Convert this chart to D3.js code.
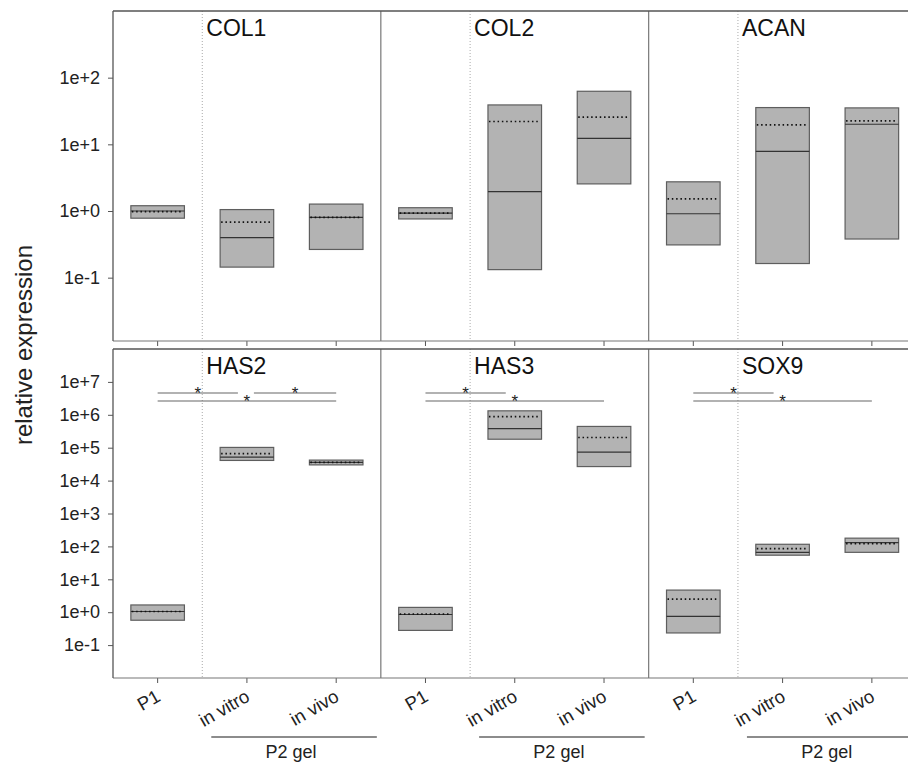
<!DOCTYPE html>
<html>
<head>
<meta charset="utf-8">
<script src="https://cdn.jsdelivr.net/npm/d3@7"></script>
<style>
  body { margin: 0; background: #fff; }
  text { font-family: "Liberation Sans", Arial, sans-serif; }
</style>
</head>
<body>
<script>
var width = 908;
var height = 766;

// genes, in panel order (top row then bottom row)
var genes = ["COL1", "COL2", "ACAN", "HAS2", "HAS3", "SOX9"];
var groups = ["P1", "in vitro", "in vivo"];

// box bottom / top, median (solid) and mean (dotted), per gene, per group
var boxLow = [
  [0.78, 0.144, 0.265],
  [0.76, 0.132, 2.55],
  [0.31, 0.163, 0.38],
  [0.57, 4.1e4, 3.0e4],
  [0.28, 1.81e5, 2.67e4],
  [0.234, 54, 66]
];
var boxHigh = [
  [1.2, 1.05, 1.27],
  [1.12, 39, 62.5],
  [2.74, 35.6, 35.2],
  [1.66, 1.02e5, 4.2e4],
  [1.4, 1.32e6, 4.43e5],
  [4.7, 116, 178]
];
var medians = [
  [1.0, 0.40, 0.80],
  [0.93, 1.95, 12.3],
  [0.91, 7.85, 20],
  [1.05, 5.2e4, 3.6e4],
  [0.85, 3.78e5, 7.36e4],
  [0.75, 66, 131]
];
var means = [
  [0.98, 0.68, 0.80],
  [0.93, 22, 25.6],
  [1.52, 19.6, 22.5],
  [1.05, 6.6e4, 3.6e4],
  [0.88, 8.8e5, 2.04e5],
  [2.48, 85, 122]
];

// significance brackets: gene, from group, to group, stacking level
var sigPairs = [
  ["HAS2", 0, 1, 0], ["HAS2", 1, 2, 0], ["HAS2", 0, 2, 1],
  ["HAS3", 0, 1, 0], ["HAS3", 0, 2, 1],
  ["SOX9", 0, 1, 0], ["SOX9", 0, 2, 1]
];

var topTicks = [1e-1, 1e0, 1e1, 1e2];
var bottomTicks = [1e-1, 1e0, 1e1, 1e2, 1e3, 1e4, 1e5, 1e6, 1e7];

var left = 113, right = 916.5;
var rows = [
  { y0: 11, y1: 341, domain: [Math.pow(10, -1.95), 1e3], ticks: topTicks },
  { y0: 349, y1: 678, domain: [1e-2, 1e8], ticks: bottomTicks }
];

var svg = d3.select("body").append("svg")
  .attr("width", width)
  .attr("height", height);

var x = d3.scaleBand()
  .domain(d3.range(9))
  .range([left, right])
  .padding(0);
var bw = x.bandwidth();
var boxW = bw * 0.6;
function cx(i) { return x(i) + bw / 2; }

function fmt(v) {
  var e = Math.round(Math.log10(v));
  return "1e" + (e < 0 ? "-" : "+") + Math.abs(e);
}

var frameColor = "#555";

rows.forEach(function (row, r) {
  var y = d3.scaleLog().domain(row.domain).range([row.y1, row.y0]);
  var g = svg.append("g");

  // y axis
  var ya = g.append("g")
    .attr("transform", "translate(" + left + ",0)")
    .call(d3.axisLeft(y).tickValues(row.ticks).tickFormat(fmt).tickSize(5).tickPadding(8));
  ya.select(".domain").remove();
  ya.selectAll("line").attr("stroke", frameColor);
  ya.selectAll("text").style("font-size", "18px").attr("fill", "#222")
    .style("font-family", "'Liberation Sans', Arial, sans-serif");

  // x axis ticks
  var xa = g.append("g")
    .attr("transform", "translate(0," + row.y1 + ")")
    .call(d3.axisBottom(x).tickSize(5).tickFormat(function (i) { return groups[i % 3]; }));
  xa.select(".domain").remove();
  xa.selectAll("line").attr("stroke", frameColor);
  if (r === 0) {
    xa.selectAll("text").remove();
  } else {
    xa.selectAll("text")
      .style("font-size", "18.5px")
      .style("font-family", "'Liberation Sans', Arial, sans-serif")
      .attr("fill", "#222")
      .attr("text-anchor", "end")
      .attr("dy", null)
      .attr("y", 0)
      .attr("transform", "translate(4,22) rotate(-30)");
  }

  // dotted group separators
  [1, 4, 7].forEach(function (i) {
    g.append("line")
      .attr("x1", x(i)).attr("x2", x(i))
      .attr("y1", row.y0).attr("y2", row.y1)
      .attr("stroke", "#aaa").attr("stroke-width", 1)
      .attr("stroke-dasharray", "1,2");
  });
  // panel separators
  [3, 6].forEach(function (i) {
    g.append("line")
      .attr("x1", x(i)).attr("x2", x(i))
      .attr("y1", row.y0).attr("y2", row.y1)
      .attr("stroke", "#777").attr("stroke-width", 1.2);
  });

  // frame
  g.append("line").attr("x1", left).attr("x2", right).attr("y1", row.y0).attr("y2", row.y0)
    .attr("stroke", frameColor).attr("stroke-width", 1.3);
  g.append("line").attr("x1", left).attr("x2", right).attr("y1", row.y1).attr("y2", row.y1)
    .attr("stroke", "#777").attr("stroke-width", 1.2);
  g.append("line").attr("x1", left).attr("x2", left).attr("y1", row.y0).attr("y2", row.y1)
    .attr("stroke", frameColor).attr("stroke-width", 1.3);

  // boxes
  for (var p = 0; p < 3; p++) {
    var gi = r * 3 + p;
    for (var k = 0; k < 3; k++) {
      var i = p * 3 + k;
      var bx = cx(i) - boxW / 2;
      g.append("rect")
        .attr("x", bx)
        .attr("y", y(boxHigh[gi][k]))
        .attr("width", boxW)
        .attr("height", y(boxLow[gi][k]) - y(boxHigh[gi][k]))
        .attr("fill", "#b3b3b3")
        .attr("stroke", "#5e5e5e")
        .attr("stroke-width", 1.2);
      g.append("line")
        .attr("x1", bx).attr("x2", bx + boxW)
        .attr("y1", y(medians[gi][k])).attr("y2", y(medians[gi][k]))
        .attr("stroke", "#333").attr("stroke-width", 1.2);
      g.append("line")
        .attr("x1", bx + 1).attr("x2", bx + boxW - 1)
        .attr("y1", y(means[gi][k])).attr("y2", y(means[gi][k]))
        .attr("stroke", "#111").attr("stroke-width", 1.7)
        .attr("stroke-dasharray", "1.5,2.8");
    }
    // gene title
    g.append("text")
      .attr("x", x(p * 3 + 1) + 4)
      .attr("y", row.y0 + 25)
      .style("font-size", "23px")
      .attr("fill", "#111")
      .text(genes[gi]);
  }
});

// significance brackets (bottom row)
var yb = rows[1].y0;
sigPairs.forEach(function (s) {
  var p = genes.indexOf(s[0]) - 3;
  var a = p * 3 + s[1], b = p * 3 + s[2];
  var x1 = cx(a), x2 = cx(b);
  // short lines stop short of the in vitro box centre to leave room for the star
  if (s[3] === 0 && s[2] === 1) x2 -= 9;
  if (s[3] === 0 && s[1] === 1) x1 += 7;
  var ly = yb + 44 + 8 * s[3];
  svg.append("line")
    .attr("x1", x1).attr("x2", x2)
    .attr("y1", ly).attr("y2", ly)
    .attr("stroke", "#666").attr("stroke-width", 1.2);
  svg.append("text")
    .attr("x", (x1 + x2) / 2)
    .attr("y", ly + 6)
    .attr("text-anchor", "middle")
    .style("font-size", "17px")
    .attr("fill", "#222")
    .text("*");
});

// "P2 gel" group labels under in vitro / in vivo
for (var q = 0; q < 3; q++) {
  var lx1 = x(q * 3 + 1) + 9, lx2 = x(q * 3 + 2) + bw - 4;
  svg.append("line")
    .attr("x1", lx1).attr("x2", lx2)
    .attr("y1", 737).attr("y2", 737)
    .attr("stroke", "#666").attr("stroke-width", 1.3);
  svg.append("text")
    .attr("x", (lx1 + lx2) / 2 - 3)
    .attr("y", 758)
    .attr("text-anchor", "middle")
    .style("font-size", "18px")
    .attr("fill", "#222")
    .text("P2 gel");
}

// y label
svg.append("text")
  .attr("transform", "translate(32,345) rotate(-90)")
  .attr("text-anchor", "middle")
  .style("font-size", "24px")
  .attr("fill", "#222")
  .text("relative expression");
</script>
</body>
</html>
